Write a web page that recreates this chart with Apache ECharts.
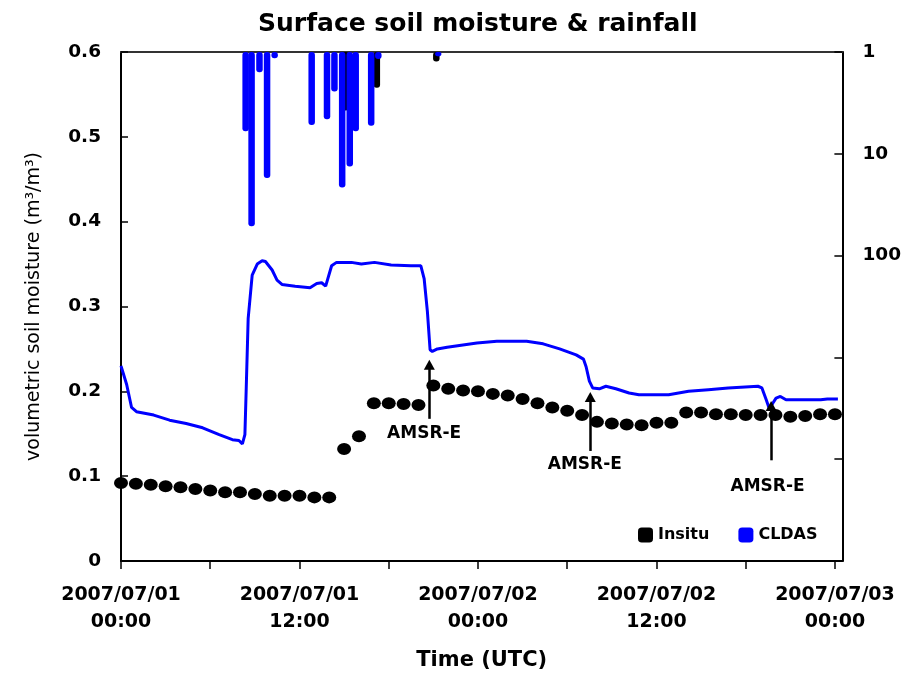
<!DOCTYPE html>
<html><head><meta charset="utf-8">
<script src="https://cdn.jsdelivr.net/npm/echarts@6/dist/echarts.min.js"></script>
<style>html,body{margin:0;padding:0;background:#fff}#c{width:904px;height:676px}</style>
</head><body><div id="c"></div>
<script>
// ---- data ----
const insituHours = [0,1,2,3,4,5,6,7,8,9,10,11,12,13,14,15,16,17,18,19,20,21,22,23,24,25,26,27,28,29,30,31,32,33,34,35,36,37,38,39,40,41,42,43,44,45,46,47,48];
const insituSM = [0.092,0.091,0.090,0.088,0.087,0.085,0.083,0.081,0.081,0.079,0.077,0.077,0.077,0.075,0.075,0.132,0.147,0.186,0.186,0.185,0.184,0.207,0.203,0.201,0.200,0.197,0.195,0.191,0.186,0.181,0.177,0.172,0.164,0.162,0.161,0.160,0.163,0.163,0.175,0.175,0.173,0.173,0.172,0.172,0.172,0.170,0.171,0.173,0.173];
const cldasHours = [0,0.38,0.71,1.04,2.2,3.27,4.38,5.49,6.6,7.49,7.93,8.16,8.33,8.42,8.55,8.82,9.16,9.49,9.71,10.16,10.49,10.82,11.71,12.71,13.16,13.49,13.76,14.16,14.49,15.49,16.16,17.04,18.16,19.49,20.16,20.38,20.6,20.78,20.93,21.27,21.93,23.93,25.27,27.27,28.38,29.49,30.6,31.09,31.27,31.49,31.71,32.16,32.6,33.27,34.16,34.82,36.82,38.16,39.49,40.82,42.82,43.09,43.38,43.6,43.82,44.04,44.33,44.71,46.16,47.04,47.49,48.2];
const cldasSM = [0.230,0.208,0.181,0.176,0.172,0.166,0.162,0.157,0.149,0.143,0.142,0.138,0.149,0.204,0.286,0.337,0.350,0.354,0.353,0.343,0.331,0.326,0.324,0.322,0.327,0.328,0.324,0.348,0.352,0.352,0.350,0.352,0.349,0.348,0.348,0.333,0.294,0.249,0.247,0.250,0.252,0.257,0.259,0.259,0.256,0.250,0.243,0.238,0.229,0.212,0.204,0.203,0.206,0.203,0.198,0.196,0.196,0.200,0.202,0.204,0.206,0.204,0.190,0.179,0.186,0.192,0.194,0.190,0.190,0.190,0.191,0.191];
const insituRainHours = [15.1,17.2,21.2];
const insituRain = [3.76,2.24,1.24];
const cldasRainHours = [8.38,8.78,9.31,9.82,10.33,12.82,13.85,14.35,14.87,15.38,15.78,16.82,17.3,21.33];
const cldasRain = [6.0,51.6,1.58,17.3,1.15,5.2,4.57,2.45,21.4,13.3,6.0,5.3,1.17,1.1];
const xTickHours = [0,6,12,18,24,30,36,42,48];
const xLabelHours = [0,12,24,36,48];
const xLabelText = ['2007/07/01\n00:00','2007/07/01\n12:00','2007/07/02\n00:00','2007/07/02\n12:00','2007/07/03\n00:00'];
const rightLabelValues = [1,10,100];
const amsrHours = [20.73,31.55,43.71];
const amsrArrowBottom = [0.1676,0.1297,0.1187];
const amsrArrowTop = [0.2312,0.1934,0.1828];
const amsrLabelHours = [20.38,31.18,43.47];
const amsrLabelSM = [0.150,0.114,0.0875];

const zip = (a, b) => a.map((v, i) => [v, b[i]]);
const F = 'DejaVu Sans';

const chart = echarts.init(document.getElementById('c'), null, {renderer: 'canvas'});
chart.setOption({
  animation: false,
  backgroundColor: '#fff',
  title: {
    text: 'Surface soil moisture & rainfall',
    left: 258, top: 12, padding: 0,
    textStyle: {fontFamily: F, fontWeight: 'bold', fontSize: 25, color: '#000'}
  },
  legend: {
    data: [{name: 'Insitu', itemStyle: {color: '#000', opacity: 1}}, {name: 'CLDAS', itemStyle: {color: '#0000ff', opacity: 1}}],
    icon: 'roundRect', itemWidth: 15, itemHeight: 15, itemGap: 29,
    left: 638, top: 527, padding: 0, selectedMode: false,
    textStyle: {fontFamily: F, fontWeight: 'bold', fontSize: 16, color: '#000'}
  },
  grid: {left: 121, right: 55.5, top: 52, bottom: 112, containLabel: false},
  xAxis: [{
    type: 'value', min: 0, max: 48.5, interval: 6, position: 'bottom',
    name: 'Time (UTC)', nameLocation: 'middle', nameGap: 89,
    nameTextStyle: {fontFamily: F, fontWeight: 'bold', fontSize: 21, color: '#000'},
    axisLine: {show: true, onZero: false, lineStyle: {color: '#000', width: 2}},
    axisTick: {show: true, inside: false, length: 8, lineStyle: {color: '#000', width: 1.5}, customValues: xTickHours},
    axisLabel: {
      margin: 21, customValues: xLabelHours,
      fontFamily: F, fontWeight: 'bold', fontSize: 19, lineHeight: 27, color: '#000',
      formatter: v => { const i = xLabelHours.indexOf(Math.round(v * 100) / 100); return i >= 0 ? xLabelText[i] : ''; }
    },
    splitLine: {show: false}
  }, {
    type: 'value', min: 0, max: 48.5, position: 'top',
    axisLine: {show: true, onZero: false, lineStyle: {color: '#333', width: 2}},
    axisTick: {show: false}, axisLabel: {show: false}, splitLine: {show: false}
  }],
  yAxis: [{
    type: 'value', min: 0, max: 0.6, interval: 0.1, position: 'left',
    name: 'volumetric soil moisture (m³/m³)', nameLocation: 'middle', nameGap: 77,
    nameTextStyle: {fontFamily: F, fontWeight: 'normal', fontSize: 19, color: '#000'},
    axisLine: {show: true, onZero: false, lineStyle: {color: '#000', width: 2}},
    axisTick: {show: true, inside: true, length: 7, lineStyle: {color: '#000', width: 1.5}},
    axisLabel: {margin: 20, fontFamily: F, fontWeight: 'bold', fontSize: 18.5, color: '#000'},
    splitLine: {show: false}
  }, {
    type: 'log', logBase: 10, min: 1, max: 100000, inverse: true, position: 'right',
    axisLine: {show: true, onZero: false, lineStyle: {color: '#000', width: 2}},
    axisTick: {show: true, inside: true, length: 8, lineStyle: {color: '#000', width: 1.5}},
    axisLabel: {
      margin: 20, fontFamily: F, fontWeight: 'bold', fontSize: 18.5, color: '#000',
      formatter: v => (v <= rightLabelValues[rightLabelValues.length - 1] * 1.01 ? String(Math.round(v)) : '')
    },
    splitLine: {show: false}
  }],
  series: [{
    name: 'CLDAS', type: 'line', xAxisIndex: 0, yAxisIndex: 0,
    data: zip(cldasHours, cldasSM), showSymbol: false, symbol: 'none',
    lineStyle: {color: '#0000ff', width: 3}, itemStyle: {color: '#0000ff'}, z: 3
  }, {
    name: 'Insitu', type: 'scatter', xAxisIndex: 0, yAxisIndex: 0,
    data: zip(insituHours, insituSM), symbol: 'circle', symbolSize: [14, 12],
    itemStyle: {color: '#000', opacity: 1}, z: 4
  }, {
    name: 'Insitu', type: 'bar', xAxisIndex: 0, yAxisIndex: 1,
    data: zip(insituRainHours, insituRain), barWidth: 6.5, barGap: '-100%',
    itemStyle: {color: '#000', borderRadius: 3, opacity: 1}, z: 2
  }, {
    name: 'CLDAS', type: 'bar', xAxisIndex: 0, yAxisIndex: 1,
    data: zip(cldasRainHours, cldasRain), barWidth: 6.5, barGap: '-100%',
    itemStyle: {color: '#0000ff', borderRadius: 3, opacity: 1}, z: 2
  }, {
    name: 'AMSR-E', type: 'scatter', xAxisIndex: 0, yAxisIndex: 0,
    data: zip(amsrLabelHours, amsrLabelSM), symbolSize: 1,
    itemStyle: {color: 'rgba(255,255,255,0)', opacity: 1}, silent: true, z: 5,
    label: {show: true, position: 'inside', formatter: 'AMSR-E', fontFamily: F, fontWeight: 'bold', fontSize: 17, color: '#000', opacity: 1},
    markLine: {
      silent: true, symbol: ['none', 'triangle'], symbolSize: [11, 10],
      lineStyle: {color: '#000', width: 2.5, type: 'solid', opacity: 1},
      label: {show: false},
      data: amsrHours.map((h, i) => [{coord: [h, amsrArrowBottom[i]]}, {coord: [h, amsrArrowTop[i]]}])
    }
  }]
});
</script>
</body></html>
